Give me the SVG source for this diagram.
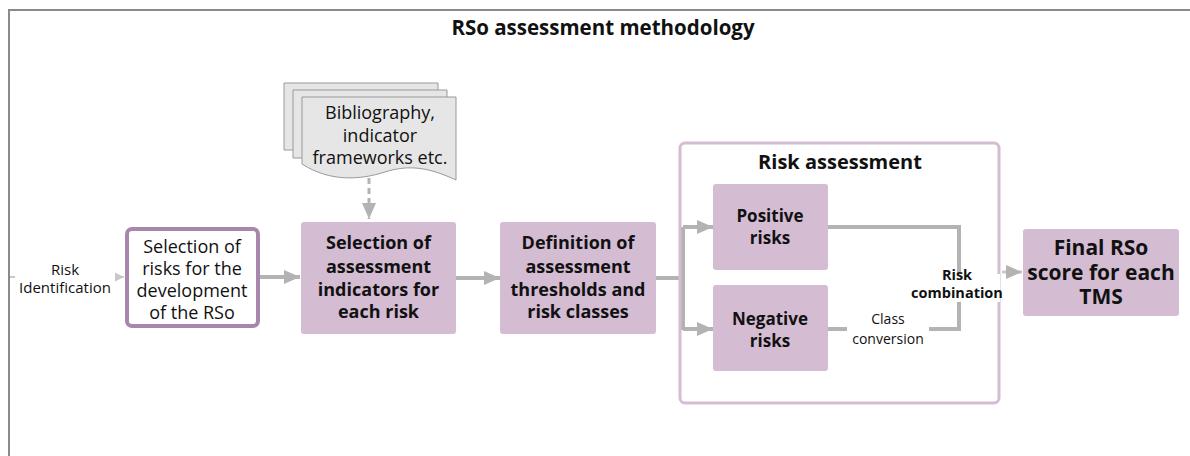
<svg xmlns="http://www.w3.org/2000/svg" width="1190" height="456" viewBox="0 0 1190 456">
<style>
text{font-family:"Open Sans","Noto Sans",sans-serif;fill:#111;text-anchor:middle}
.b{font-weight:bold}
.box{fill:#d4bcd3}
.ln{fill:none;stroke:#b3b3b3;stroke-width:4}
</style>
<defs>
<marker id="ah" markerUnits="userSpaceOnUse" markerWidth="18" markerHeight="14" refX="16" refY="7" orient="auto"><path d="M0,0 L16,7 L0,14 Z" fill="#b3b3b3"/></marker>
<marker id="ahs" markerUnits="userSpaceOnUse" markerWidth="12" markerHeight="10" refX="10" refY="5" orient="auto"><path d="M0,0 L10,5 L0,10 Z" fill="#c8c8c8"/></marker>
</defs>
<rect x="0" y="0" width="1190" height="456" fill="#fff"/>
<path d="M9,456 V10 H1190" fill="none" stroke="#8a8a8a" stroke-width="2"/>
<text class="b" x="603" y="35" font-size="20.5">RSo assessment methodology</text>

<g id="connectors">
<line x1="10" y1="277" x2="124" y2="277" stroke="#c8c8c8" stroke-width="2" marker-end="url(#ahs)"/>
<line class="ln" x1="259" y1="277" x2="300" y2="277" marker-end="url(#ah)"/>
<line x1="369" y1="178" x2="369" y2="219" stroke="#b3b3b3" stroke-width="3" stroke-dasharray="6,4" marker-end="url(#ah)"/>
<line class="ln" x1="456" y1="278" x2="500" y2="278" marker-end="url(#ah)"/>
<path class="ln" d="M656,278 H683"/>
<path class="ln" d="M683,227 V330"/>
<line class="ln" x1="683" y1="227" x2="713" y2="227" marker-end="url(#ah)"/>
<line class="ln" x1="683" y1="329" x2="713" y2="329" marker-end="url(#ah)"/>
<path class="ln" d="M828,227 H959 V329 H828"/>
<line x1="1002" y1="272" x2="1022" y2="272" stroke="#c8c8c8" stroke-width="3" marker-end="url(#ah)"/>
</g>

<g id="risk-identification">
<rect x="15" y="258" width="100" height="38" fill="#fff"/>
<text x="65" y="275" font-size="15">Risk</text>
<text x="65" y="293" font-size="15">Identification</text>
</g>

<g id="bibliography">
<path d="M284,83 H438 V150 H284 Z" fill="#e6e6e6" stroke="#999" stroke-width="1"/>
<path d="M293,90 H447 V158 H293 Z" fill="#e6e6e6" stroke="#999" stroke-width="1"/>
<path d="M302,97 H456 V180 C430,168 410,164 385,172 C360,180 330,182 302,164 Z" fill="#e6e6e6" stroke="#999" stroke-width="1"/>
<text x="380" y="119" font-size="18">Bibliography,</text>
<text x="380" y="142" font-size="18">indicator</text>
<text x="380" y="164" font-size="18">frameworks etc.</text>
</g>

<g id="selection-risks">
<rect x="127" y="229" width="131" height="97" rx="5" fill="#fff" stroke="#a987ac" stroke-width="4"/>
<text x="192" y="253" font-size="18">Selection of</text>
<text x="192" y="275" font-size="18">risks for the</text>
<text x="192" y="297" font-size="18">development</text>
<text x="192" y="319" font-size="18">of the RSo</text>
</g>

<g id="selection-indicators">
<rect class="box" x="301" y="222" width="155" height="112" rx="3"/>
<text class="b" x="378.5" y="249" font-size="18">Selection of</text>
<text class="b" x="378.5" y="273" font-size="18">assessment</text>
<text class="b" x="378.5" y="296" font-size="18">indicators for</text>
<text class="b" x="378.5" y="318" font-size="18">each risk</text>
</g>

<g id="definition-thresholds">
<rect class="box" x="500" y="222" width="156" height="112" rx="3"/>
<text class="b" x="578" y="249" font-size="18">Definition of</text>
<text class="b" x="578" y="273" font-size="18">assessment</text>
<text class="b" x="578" y="296" font-size="18">thresholds and</text>
<text class="b" x="578" y="318" font-size="18">risk classes</text>
</g>

<g id="risk-assessment">
<rect x="680" y="143" width="319" height="260" rx="5" fill="none" stroke="#d4bcd3" stroke-width="3"/>
<text class="b" x="840" y="169" font-size="20">Risk assessment</text>
</g>

<g id="positive-risks">
<rect class="box" x="713" y="184" width="115" height="86" rx="3"/>
<text class="b" x="770" y="222" font-size="17">Positive</text>
<text class="b" x="770" y="244" font-size="17">risks</text>
</g>

<g id="negative-risks">
<rect class="box" x="713" y="285" width="115" height="86" rx="3"/>
<text class="b" x="770" y="325" font-size="17">Negative</text>
<text class="b" x="770" y="347" font-size="17">risks</text>
</g>

<g id="class-conversion">
<rect x="847" y="308" width="82" height="40" fill="#fff"/>
<text x="888" y="324" font-size="14">Class</text>
<text x="888" y="344" font-size="14">conversion</text>
</g>

<g id="risk-combination">
<rect x="916" y="274" width="84" height="28" fill="#fff"/>
<text class="b" x="957" y="280" font-size="14.5">Risk</text>
<text class="b" x="957" y="298" font-size="14.5">combination</text>
</g>

<g id="final-score">
<rect class="box" x="1023" y="229" width="156" height="87" rx="3"/>
<text class="b" x="1101" y="255" font-size="21">Final RSo</text>
<text class="b" x="1101" y="280" font-size="21">score for each</text>
<text class="b" x="1101" y="304" font-size="21">TMS</text>
</g>
</svg>
